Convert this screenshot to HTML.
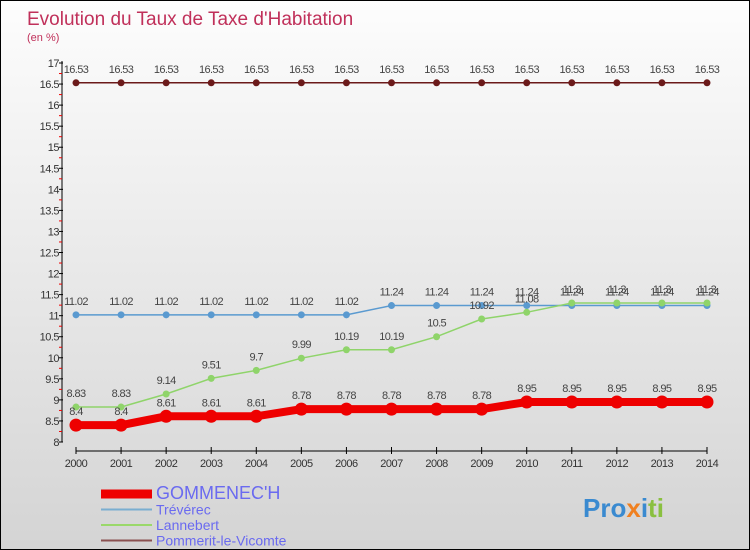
<!DOCTYPE html>
<html><head><meta charset="utf-8"><style>
body{margin:0}
#c{width:748px;height:548px;border:1px solid #000;background:linear-gradient(#fdfdfd,#d4d4d4);position:relative;font-family:"Liberation Sans",sans-serif;overflow:hidden}
</style></head><body>
<div id="c">
<svg id="s" width="748" height="548" xmlns="http://www.w3.org/2000/svg">
<text x="26" y="24" font-size="19" fill="#c0305a">Evolution du Taux de Taxe d'Habitation</text>
<text x="26" y="40" font-size="11" fill="#c0305a">(en %)</text>
<g id="g"></g>
</svg>
</div>
<script>
const years=[2000,2001,2002,2003,2004,2005,2006,2007,2008,2009,2010,2011,2012,2013,2014];
const gommenech=[8.4,8.4,8.61,8.61,8.61,8.78,8.78,8.78,8.78,8.78,8.95,8.95,8.95,8.95,8.95];
const trevarec=[11.02,11.02,11.02,11.02,11.02,11.02,11.02,11.24,11.24,11.24,11.24,11.24,11.24,11.24,11.24];
const lannebert=[8.83,8.83,9.14,9.51,9.7,9.99,10.19,10.19,10.5,10.92,11.08,11.3,11.3,11.3,11.3];
const pommerit=[16.53,16.53,16.53,16.53,16.53,16.53,16.53,16.53,16.53,16.53,16.53,16.53,16.53,16.53,16.53];
const yTicks=[8,8.5,9,9.5,10,10.5,11,11.5,12,12.5,13,13.5,14,14.5,15,15.5,16,16.5,17];
const NS="http://www.w3.org/2000/svg";
const g=document.getElementById('g');
const X=i=>75+i*(631/14);
const Y=v=>441-(v-8)*(379/9);
function el(t,a,name){const e=document.createElementNS(NS,t);for(const k in a)e.setAttribute(k,a[k]);


g.appendChild(e);return e;}
el('line',{x1:61,y1:Y(17)-2,x2:61,y2:Y(8),stroke:'#000','stroke-width':1},'y-axis');
yTicks.forEach((v,i)=>{el('line',{x1:58,y1:Y(v),x2:62,y2:Y(v),stroke:'#000'},'y-tick');
if(i<yTicks.length-1)el('line',{x1:58,y1:Y(v+0.25),x2:61,y2:Y(v+0.25),stroke:'#e00'},'y-minor-tick');
const t=el('text',{x:58,y:Y(v)+4,'font-size':11,'text-anchor':'end',fill:'#333','letter-spacing':'-0.5'},'y-tick-label');t.textContent=v;});
el('line',{x1:X(0),y1:450,x2:X(14),y2:450,stroke:'#000'},'x-axis');
years.forEach((y,i)=>{el('line',{x1:X(i),y1:446,x2:X(i),y2:453,stroke:'#000'},'x-tick');
const t=el('text',{x:X(i),y:466,'font-size':11,'text-anchor':'middle',fill:'#333','letter-spacing':'-0.5'},'x-tick-label');t.textContent=y;});
function series(d,color,w,r,name,dy){
el('polyline',{points:d.map((v,i)=>X(i)+','+Y(v)).join(' '),fill:'none',stroke:color,'stroke-width':w},name+'-line');
d.forEach((v,i)=>{el('circle',{cx:X(i),cy:Y(v),r:r,fill:color},name+'-point');
const t=el('text',{x:X(i),y:Y(v)+dy,'font-size':11,'text-anchor':'middle',fill:'#444','letter-spacing':'-0.6'},name+'-value-label');t.textContent=v;});}
series(pommerit,'#6b1a1a',1.5,3.5,'pommerit',-10);
series(trevarec,'#5a9ad0',1.5,3.5,'trevarec',-10);
series(lannebert,'#8fd46a',1.5,3.5,'lannebert',-10);
series(gommenech,'#ee0000',8,6.5,'gommenech',-10);
const leg=[['GOMMENEC\'H','#ee0000',9,14],['Trévérec','#7aaed0',2,10],['Lannebert','#9ad86a',2,10],['Pommerit-le-Vicomte','#8a5050',2,10]];
leg.forEach((l,i)=>{const y=493+i*15.5;
el('line',{x1:100,y1:y,x2:151,y2:y,stroke:l[1],'stroke-width':l[2]},'legend-swatch');
const t=el('text',{x:155,y:y+5,'font-size':l[3]+4,fill:'#6a6af0'},'legend-entry');t.textContent=l[0];});
const p=el('text',{x:582,y:516,'font-size':26,'font-weight':'bold',fill:'#f0a030'},'proxiti-logo');
p.innerHTML='<tspan fill="#3a8ad0">Pro</tspan><tspan fill="#f08020">x</tspan><tspan fill="#3a8ad0">i</tspan><tspan fill="#8ac040">ti</tspan>';
</script>
</body></html>
